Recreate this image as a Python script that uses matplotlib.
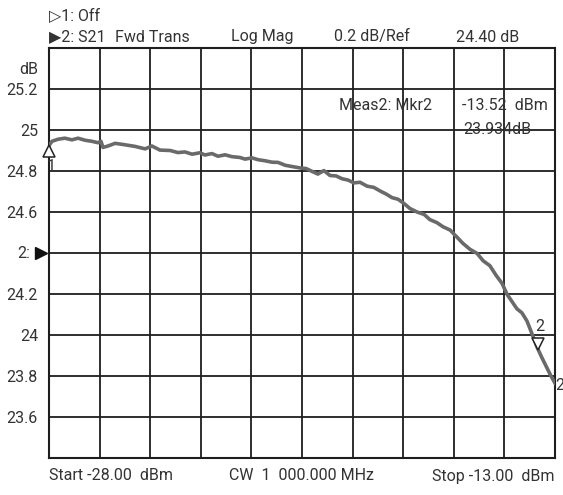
import matplotlib
matplotlib.use("Agg")
import matplotlib.pyplot as plt
from matplotlib import transforms

plt.rcParams['font.family'] = ['Roboto', 'DejaVu Sans']
plt.rcParams['font.size'] = 11.5

# sweep: input power (dBm) vs S21 (dB)
power_dbm = [-28.00, -27.91, -27.73, -27.53, -27.32, -27.14, -26.93, -26.73, -26.55, -26.46,
             -26.40, -26.25, -26.04, -25.75, -25.45, -25.15, -24.95, -24.71, -24.41, -24.18,
             -23.97, -23.76, -23.52, -23.38, -23.17, -22.99, -22.78, -22.58, -22.34, -22.19,
             -21.98, -21.80, -21.60, -21.39, -21.21, -21.00, -20.80, -20.56, -20.38, -20.20,
             -20.03, -19.85, -19.67, -19.49, -19.31, -19.14, -18.96, -18.78, -18.57, -18.37,
             -18.19, -18.01, -17.83, -17.65, -17.48, -17.30, -17.09, -16.88, -16.71, -16.50,
             -16.32, -16.11, -15.91, -15.73, -15.52, -15.31, -15.13, -14.93, -14.75, -14.57,
             -14.42, -14.27, -14.13, -13.98, -13.83, -13.68, -13.53, -13.39, -13.24, -13.12,
             -13.00]
s21_db = [24.925, 24.945, 24.955, 24.960, 24.952, 24.960, 24.950, 24.945, 24.938, 24.945,
          24.915, 24.922, 24.935, 24.928, 24.920, 24.908, 24.922, 24.902, 24.900, 24.890,
          24.893, 24.882, 24.889, 24.878, 24.885, 24.872, 24.879, 24.870, 24.866, 24.858,
          24.864, 24.855, 24.850, 24.843, 24.842, 24.828, 24.822, 24.815, 24.812, 24.798,
          24.785, 24.802, 24.778, 24.776, 24.762, 24.756, 24.742, 24.745, 24.726, 24.720,
          24.703, 24.688, 24.670, 24.662, 24.642, 24.617, 24.600, 24.588, 24.563, 24.548,
          24.528, 24.512, 24.478, 24.447, 24.418, 24.398, 24.362, 24.338, 24.292, 24.252,
          24.198, 24.162, 24.128, 24.108, 24.068, 24.005, 23.940, 23.890, 23.840, 23.800,
          23.765]

x_ticks = [-28 + 1.5 * i for i in range(11)]
y_ticks = [23.4, 23.6, 23.8, 24.0, 24.2, 24.4, 24.6, 24.8, 25.0, 25.2, 25.4]
y_labels = ['', '23.6', '23.8', '24', '24.2', '', '24.6', '24.8', '25', '25.2', '']

mkr1 = (-28.0, 24.925)
mkr2 = (-13.52, 23.934)

txt = '#333333'
grid_c = '#1e1e1e'
trace_c = '#6a6a6a'

W, H = 563, 495
fig = plt.figure(figsize=(W / 100, H / 100), dpi=100)
ax = fig.add_axes([49 / W, 37 / H, 506 / W, 410 / H])

ax.set_xlim(-28, -13)
ax.set_ylim(23.4, 25.4)
ax.set_xticks(x_ticks)
ax.set_xticklabels([])
ax.set_yticks(y_ticks)
ax.set_yticklabels(y_labels, color=txt)
ax.tick_params(length=0, pad=8)
ax.grid(True, color=grid_c, lw=1.3)
for s in ax.spines.values():
    s.set_color(grid_c)
    s.set_linewidth(1.5)

ax.plot(power_dbm, s21_db, color=trace_c, lw=2.6, zorder=3)

# marker 1 (up triangle, tip on trace)
off = transforms.offset_copy(ax.transData, fig, x=0, y=-6, units='dots')
ax.plot([mkr1[0]], [mkr1[1]], marker='^', ms=8.5, mfc='white', mec='#222222',
        mew=1.1, transform=off, clip_on=False, zorder=4)
ax.annotate('1', xy=mkr1, xytext=(2, -21), textcoords='offset pixels',
            ha='center', va='center', color=txt)

# marker 2 (down triangle, tip on trace)
off = transforms.offset_copy(ax.transData, fig, x=1, y=5, units='dots')
ax.plot([mkr2[0]], [mkr2[1]], marker='v', ms=8.5, mfc='white', mec='#222222',
        mew=1.1, transform=off, clip_on=False, zorder=4)
ax.annotate('2', xy=mkr2, xytext=(2.5, 22), textcoords='offset pixels',
            ha='center', va='center', color=txt)

# reference position arrow
off = transforms.offset_copy(ax.transData, fig, x=-8, y=0, units='dots')
ax.plot([-28], [24.4], marker='>', ms=8.5, color='#111111', transform=off,
        clip_on=False, zorder=4)
fig.text(30 / W, 1 - 253 / H, '2:', ha='right', va='center', color=txt)
fig.text(38 / W, 1 - 69 / H, 'dB', ha='right', va='center', color=txt)

# header
fig.text(49 / W, 1 - 16 / H, '\u25b71: Off', va='center', color=txt)
top = 1 - 37 / H
fig.text(49 / W, top, '\u25b62: S21', va='center', color=txt)
fig.text(115 / W, top, 'Fwd Trans', va='center', color=txt)
fig.text(231 / W, top, 'Log Mag', va='center', color=txt)
fig.text(334 / W, top, '0.2 dB/Ref', va='center', color=txt)
fig.text(456 / W, top, '24.40 dB', va='center', color=txt)

# marker readout
fig.text(339 / W, 1 - 105 / H, 'Meas2: Mkr2', va='center', color=txt)
fig.text(462 / W, 1 - 105 / H, '-13.52  dBm', va='center', color=txt)
fig.text(463 / W, 1 - 129 / H, '23.934dB', va='center', color=txt)
fig.text(555 / W, 1 - 385 / H, '2', va='center', color=txt)

# footer
bot = 1 - 476 / H
fig.text(49 / W, bot, 'Start -28.00  dBm', va='center', color=txt)
fig.text(229 / W, bot, 'CW  1  000.000 MHz', va='center', color=txt)
fig.text(555 / W, bot, 'Stop -13.00  dBm', ha='right', va='center', color=txt)

fig.savefig('out.png', dpi=100, facecolor='white')
